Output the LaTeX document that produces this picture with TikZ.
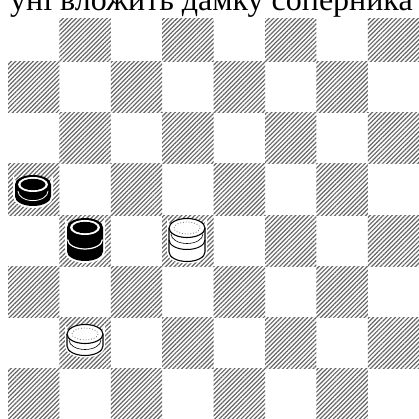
\documentclass[tikz,border=0pt]{standalone}
\usepackage{fontspec}
\setmainfont{Liberation Serif}
\usetikzlibrary{patterns.meta}

\def\rx{18}
\def\ry{9.5}
\def\hh{12}

\tikzset{
  darksq/.style={pattern={Lines[angle=45,distance=3.1pt,line width=1.2pt]}, pattern color=black!60},
  halo/.style={fill=white, draw=white, line width=4pt},
  % outline of a piece with #1 layers of height \hh
  pics/blackpiece/.style={code={
    \pgfmathsetmacro\bot{#1*\hh}
    \path[halo] (-\rx,0) -- (-\rx,\bot) arc[start angle=180, end angle=0, x radius=\rx, y radius=\ry]
      -- (\rx,0) arc[start angle=0, end angle=180, x radius=\rx, y radius=\ry] -- cycle;
    \fill[black] (-\rx,0) -- (-\rx,\bot) arc[start angle=180, end angle=0, x radius=\rx, y radius=\ry] -- (\rx,0) -- cycle;
    \ifnum#1>1
      \draw[white, line width=1.2pt] (-\rx+0.6,\hh) arc[start angle=180, end angle=0, x radius=\rx-0.6, y radius=\ry];
    \else
      \draw[white, line width=0.8pt] (-\rx+3,0.55*\hh) arc[start angle=180, end angle=0, x radius=\rx-3, y radius=\ry];
    \fi
    \fill[black] (0,0) ellipse[x radius=\rx, y radius=\ry];
    \fill[white] (0,0) ellipse[x radius=\rx-3, y radius=\ry-2];
    \fill[black] (0,0) ellipse[x radius=\rx-5.5, y radius=\ry-3.8];
  }},
  pics/whitepiece/.style={code={
    \pgfmathsetmacro\bot{#1*\hh}
    \path[halo] (-\rx,0) -- (-\rx,\bot) arc[start angle=180, end angle=0, x radius=\rx, y radius=\ry]
      -- (\rx,0) arc[start angle=0, end angle=180, x radius=\rx, y radius=\ry] -- cycle;
    \draw[fill=white, line width=1.1pt] (-\rx,0) -- (-\rx,\bot) arc[start angle=180, end angle=0, x radius=\rx, y radius=\ry] -- (\rx,0);
    \ifnum#1>1
      \draw[line width=1pt] (-\rx,\hh) arc[start angle=180, end angle=0, x radius=\rx, y radius=\ry];
    \fi
    \draw[line width=0.6pt] (-\rx+2,0.5*\hh) arc[start angle=180, end angle=0, x radius=\rx-2, y radius=\ry];
    \draw[fill=white, line width=1.1pt] (0,0) ellipse[x radius=\rx, y radius=\ry];
    \draw[black!55, line width=0.8pt, dotted] (0,0) ellipse[x radius=\rx-5, y radius=\ry-3.5];
  }}
}

\begin{document}
\begin{tikzpicture}[x=1pt, y=-1pt]
  \clip (0,0) rectangle (419,419);
  \fill[white] (0,0) rectangle (419,419);
  % board
  \foreach \r in {1,...,8} {
    \foreach \c in {1,...,8} {
      \pgfmathtruncatemacro\odd{mod(\r+\c,2)}
      \ifnum\odd=1
        \path[darksq] (8+\c*51.4-51.4, 11+\r*51-51) rectangle (8+\c*51.4, 11+\r*51);
      \fi
    }
  }
  % caption line cut by the frame
  \fill[white] (0,0) rectangle (419,18);
  \node[anchor=base west, inner sep=0pt, font=\fontsize{32}{34}\selectfont] (caption) at (10,11) {уні вложить дамку соперника};
  % pieces
  \pic at (33,184.5) {blackpiece=1};
  \pic at (85,227.5) {blackpiece=2};
  \pic at (187,228) {whitepiece=2};
  \pic at (85,334) {whitepiece=1};
\end{tikzpicture}
\end{document}
